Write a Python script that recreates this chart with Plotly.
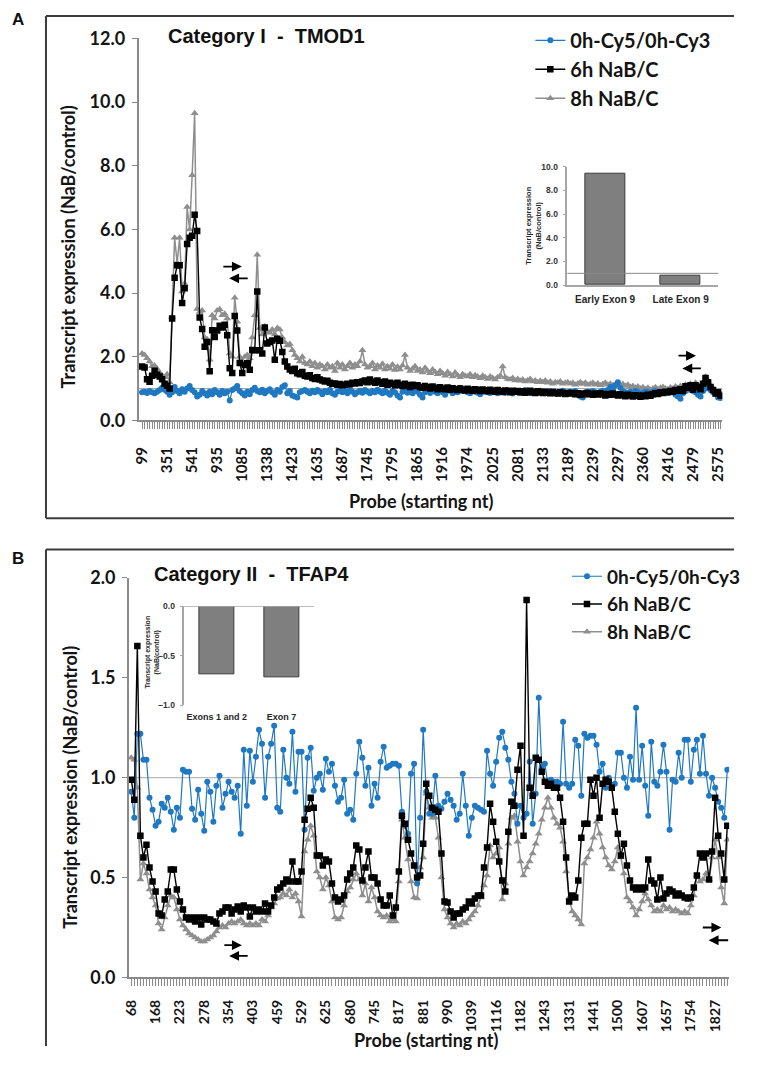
import plotly.graph_objects as go

# The page keeps the browser's default 8px body margin, so the figure is made
# 16px smaller than the window and every position below is given in window
# pixels and converted with that 8px offset.
WIN_W, WIN_H = 762, 1072
OFF = 8
W, H = WIN_W - 2 * OFF, WIN_H - 2 * OFF


def px(x):
    return (x - OFF) / W


def py(y):
    return 1 - (y - OFF) / H


# ---------------- Panel A data (TMOD1) ----------------
a_labels = ["99", "351", "541", "935", "1085", "1338", "1423", "1635", "1687", "1745",
            "1795", "1865", "1916", "1974", "2025", "2081", "2133", "2189", "2239",
            "2297", "2360", "2416", "2479", "2575"]

a_0h = [
    0.88, 0.90, 0.86, 0.92, 0.88, 0.85, 0.90, 0.95, 1.02, 0.96,
    0.90, 0.80, 0.88, 1.05, 0.92, 0.85, 0.98, 0.90, 1.00, 1.08,
    0.95, 0.88, 0.75, 0.80, 0.92, 0.85, 0.78, 0.90, 0.82, 0.95,
    0.88, 0.80, 0.92, 0.85, 0.90, 0.62, 0.95, 1.00, 1.08, 0.92,
    0.85, 0.78, 0.90, 0.82, 0.95, 1.02, 0.92, 0.88, 0.96, 0.85,
    0.92, 0.98, 0.88, 0.80, 0.95, 0.90, 1.05, 1.10, 0.85, 0.92,
    0.78, 0.75, 0.72, 0.88, 0.92, 0.95, 0.90, 0.85, 0.93, 0.88,
    0.95, 0.90, 0.82, 0.92, 0.88, 0.96, 0.85, 0.80, 0.90, 0.94,
    0.88, 0.92, 0.85, 0.95, 0.90, 0.82, 0.88, 0.93, 0.87, 0.95,
    0.90, 0.85, 0.92, 0.88, 0.96, 0.90, 0.85, 0.93, 0.87, 0.80,
    0.92, 0.88, 0.78, 0.72, 0.90, 0.95, 0.87, 0.92, 0.85, 0.95,
    0.90, 0.80, 0.72, 0.88, 0.93, 0.86, 0.95, 0.90, 0.85, 0.92,
    0.88, 0.80, 0.95, 0.92, 0.85, 0.90, 0.88, 1.02, 0.92, 0.95,
    0.88, 0.85, 0.92, 0.90, 0.87, 0.82, 0.90, 0.95, 0.88, 0.86,
    0.92, 0.88, 0.85, 0.93, 0.90, 0.87, 0.95, 0.89, 0.84, 0.90,
    0.92, 0.86, 0.90, 0.95, 0.88, 0.85, 0.92, 0.90, 0.87, 0.93,
    0.88, 0.85, 0.90, 0.92, 0.86, 0.89, 0.84, 0.90, 0.93, 0.87,
    0.85, 0.90, 0.88, 0.92, 0.80, 0.75, 0.72, 0.88, 0.90, 0.86,
    0.92, 0.88, 0.85, 0.90, 0.93, 0.87, 0.95, 1.05, 0.98, 1.10,
    1.20, 1.02, 0.92, 0.88, 0.85, 0.90, 0.87, 0.92, 0.88, 0.84,
    0.86, 0.90, 0.88, 0.85, 0.90, 0.92, 0.87, 0.85, 0.90, 0.88,
    0.86, 0.92, 0.88, 0.80, 0.75, 0.68, 0.85, 0.92, 0.96, 1.00,
    0.92, 0.88, 0.80, 0.75, 0.92, 1.00, 1.05, 0.95, 0.88, 0.82,
    0.72, 0.70,
]

a_6h = [
    1.69, 1.66, 1.29, 1.21, 1.40, 1.56, 1.43, 1.38, 1.29, 1.15,
    1.09, 1.00, 3.20, 4.48, 4.87, 4.87, 3.69, 4.15, 5.54, 5.74,
    5.80, 6.46, 5.95, 3.23, 2.87, 2.31, 2.46, 1.54, 2.83, 2.62,
    2.82, 2.97, 2.92, 3.00, 2.67, 1.64, 1.49, 3.28, 2.82, 1.80,
    1.49, 1.74, 1.79, 1.59, 2.21, 2.20, 4.05, 2.20, 2.10, 2.92,
    2.41, 2.46, 2.51, 1.90, 2.56, 2.50, 2.15, 1.85, 1.69, 1.60,
    1.55, 1.62, 1.48, 1.45, 1.52, 1.40, 1.38, 1.42, 1.33, 1.30,
    1.35, 1.28, 1.25, 1.22, 1.24, 1.18, 1.15, 1.16, 1.12, 1.14,
    1.10, 1.12, 1.15, 1.13, 1.18, 1.16, 1.20, 1.17, 1.22, 1.25,
    1.20, 1.28, 1.22, 1.18, 1.25, 1.20, 1.15, 1.22, 1.12, 1.18,
    1.15, 1.10, 1.18, 1.12, 1.08, 1.15, 1.10, 1.05, 1.12, 1.08,
    1.10, 1.05, 1.02, 1.08, 1.04, 1.00, 1.06, 1.02, 0.98, 1.04,
    1.00, 0.98, 1.03, 0.96, 1.01, 0.98, 0.95, 1.00, 0.97, 0.94,
    0.99, 0.96, 0.93, 0.98, 0.95, 0.92, 0.97, 0.94, 0.91, 0.96,
    0.93, 0.90, 0.95, 0.92, 0.89, 0.94, 0.91, 0.88, 0.93, 0.90,
    0.92, 0.88, 0.91, 0.87, 0.90, 0.93, 0.88, 0.86, 0.91, 0.89,
    0.86, 0.90, 0.87, 0.85, 0.89, 0.86, 0.84, 0.88, 0.85, 0.83,
    0.87, 0.84, 0.86, 0.82, 0.85, 0.80, 0.84, 0.82, 0.86, 0.83,
    0.80, 0.84, 0.81, 0.85, 0.82, 0.78, 0.83, 0.80, 0.84, 0.81,
    0.78, 0.82, 0.79, 0.76, 0.80, 0.78, 0.75, 0.79, 0.77, 0.74,
    0.78, 0.76, 0.80, 0.77, 0.82, 0.85, 0.83, 0.88, 0.86, 0.90,
    0.88, 0.92, 0.90, 0.95, 0.93, 0.98, 0.92, 1.07, 1.02, 1.10,
    0.96, 1.10, 1.05, 0.98, 1.15, 1.33, 1.20, 1.05, 0.95, 0.84,
    0.88, 0.77,
]

a_8h = [
    2.10, 2.05, 1.95, 1.85, 1.70, 1.72, 1.62, 1.50, 1.42, 1.35,
    1.45, 1.20, 3.25, 5.74, 4.95, 5.74, 4.05, 4.30, 6.70, 6.00,
    7.70, 9.65, 3.50, 3.40, 3.45, 2.60, 2.55, 1.90, 3.30, 3.20,
    3.45, 3.49, 3.30, 3.35, 3.20, 2.10, 2.00, 3.85, 3.10, 2.00,
    1.85, 2.00, 2.05, 1.95, 2.60, 3.30, 5.20, 2.90, 2.70, 2.95,
    2.80, 2.75, 2.85, 2.70, 2.90, 2.85, 2.60, 2.45, 2.35, 2.40,
    2.20, 2.05, 1.95, 1.85, 2.00, 1.80, 1.75, 1.85, 1.70, 1.80,
    1.65, 1.75, 1.70, 1.60, 1.75, 1.65, 1.70, 1.55, 1.80, 1.65,
    1.75, 1.60, 1.70, 1.80, 1.65, 1.75, 1.70, 1.85, 2.20, 1.75,
    1.65, 1.70, 1.80, 1.60, 1.72, 1.65, 1.78, 1.60, 1.70, 1.62,
    1.75, 1.58, 1.68, 1.60, 1.72, 2.05, 1.65, 1.55, 1.62, 1.70,
    1.55, 1.60, 1.50, 1.65, 1.55, 1.48, 1.60, 1.52, 1.45, 1.55,
    1.48, 1.40, 1.52, 1.45, 1.38, 1.50, 1.42, 1.35, 1.45, 1.40,
    1.38, 1.45, 1.35, 1.42, 1.38, 1.32, 1.40, 1.35, 1.30, 1.38,
    1.33, 1.28, 1.35, 1.40, 1.69, 1.35, 1.30, 1.28, 1.33, 1.25,
    1.30, 1.24, 1.28, 1.22, 1.26, 1.30, 1.22, 1.25, 1.20, 1.24,
    1.20, 1.25, 1.18, 1.22, 1.15, 1.20, 1.18, 1.22, 1.15, 1.18,
    1.20, 1.15, 1.18, 1.12, 1.16, 1.20, 1.14, 1.18, 1.12, 1.15,
    1.18, 1.12, 1.16, 1.10, 1.14, 1.18, 1.12, 1.15, 1.10, 1.13,
    1.16, 1.10, 1.14, 1.08, 1.12, 1.05, 1.08, 1.02, 1.06, 1.00,
    1.04, 0.98, 1.02, 0.96, 1.00, 1.04, 0.98, 1.02, 1.05, 1.00,
    0.98, 1.03, 1.00, 1.06, 1.02, 1.08, 0.96, 1.12, 1.05, 1.15,
    1.08, 1.18, 1.10, 1.05, 1.20, 1.38, 1.25, 1.10, 1.00, 0.92,
    0.90, 0.85,
]

a_inset_cats = ["Early Exon 9", "Late Exon 9"]
a_inset_vals = [9.4, 0.8]

# ---------------- Panel B data (TFAP4) ----------------
b_labels = ["68", "168", "223", "278", "354", "403", "459", "529", "625", "680",
            "745", "817", "881", "990", "1039", "1116", "1182", "1243", "1331",
            "1441", "1500", "1607", "1657", "1754", "1827"]

b_0h = [
    0.93, 0.80, 1.22, 1.22, 1.09, 1.09, 0.90, 0.84,
    0.76, 0.78, 0.87, 0.85, 0.90, 0.83, 0.74, 0.85,
    0.80, 1.04, 1.03, 1.03, 0.845, 0.79, 0.94, 0.82,
    0.735, 0.98, 0.93, 0.78, 0.96, 1.01, 0.85, 0.92,
    0.98, 0.93, 0.90, 0.96, 0.72, 1.14, 0.86, 1.135,
    0.98, 1.105, 1.24, 1.17, 0.90, 1.105, 1.17, 1.26,
    0.85, 0.83, 1.14, 1.00, 0.97, 1.23, 0.93, 1.13,
    1.13, 0.74, 1.10, 1.15, 0.935, 1.00, 1.02, 0.94,
    1.095, 1.03, 1.07, 0.96, 0.88, 0.90, 0.99, 0.82,
    0.84, 0.79, 1.02, 1.18, 1.10, 0.96, 1.05, 0.86,
    0.97, 0.90, 1.08, 1.155, 1.05, 1.06, 1.07, 1.07,
    1.06, 0.83, 0.76, 0.72, 1.02, 1.07, 0.47, 0.80,
    1.24, 0.93, 0.82, 0.82, 1.01, 0.86, 0.845, 0.88,
    0.92, 0.89, 0.86, 0.79, 0.82, 1.02, 0.86, 0.71,
    0.80, 0.86, 0.85, 0.84, 0.83, 1.135, 1.02, 0.96,
    1.08, 1.20, 1.23, 1.15, 1.09, 0.98, 0.92, 0.77,
    0.86, 0.80, 0.82, 1.08, 0.77, 0.92, 1.40, 1.05,
    1.07, 0.97, 0.99, 0.98, 0.98, 0.97, 1.28, 0.97,
    0.95, 0.97, 1.19, 1.16, 0.91, 1.22, 1.20, 1.21,
    1.21, 1.165, 1.03, 1.07, 0.95, 1.00, 0.95, 0.97,
    1.125, 1.125, 1.00, 0.95, 1.105, 0.99, 1.35, 0.99,
    1.16, 0.96, 0.81, 1.18, 0.98, 0.96, 1.03, 1.165,
    1.03, 0.74, 0.99, 0.98, 1.125, 1.00, 1.19, 1.19,
    0.98, 1.14, 1.19, 1.02, 1.21, 1.02, 0.91, 1.00,
    0.95, 0.88, 0.85, 0.80, 1.04,
]

b_6h = [
    0.99, 0.89, 1.66, 0.71, 0.60, 0.665, 0.55, 0.48,
    0.43, 0.32, 0.31, 0.39, 0.43, 0.54, 0.54, 0.44,
    0.38, 0.34, 0.30, 0.29, 0.30, 0.28, 0.30, 0.265,
    0.30, 0.29, 0.29, 0.28, 0.27, 0.32, 0.33, 0.35,
    0.35, 0.32, 0.34, 0.355, 0.33, 0.36, 0.35, 0.305,
    0.35, 0.33, 0.34, 0.33, 0.37, 0.33, 0.36, 0.40,
    0.44, 0.45, 0.47, 0.49, 0.48, 0.58, 0.48, 0.48,
    0.53, 0.79, 0.845, 0.90, 0.85, 0.61, 0.61, 0.56,
    0.59, 0.58, 0.47, 0.40, 0.38, 0.39, 0.41, 0.49,
    0.52, 0.55, 0.66, 0.64, 0.485, 0.55, 0.63, 0.50,
    0.50, 0.47, 0.39, 0.36, 0.36, 0.41, 0.31, 0.35,
    0.53, 0.81, 0.77, 0.69, 0.62, 0.56, 0.50, 0.51,
    0.67, 0.97, 0.91, 0.85, 0.84, 0.83, 0.62, 0.38,
    0.375, 0.33, 0.30, 0.32, 0.32, 0.34, 0.35, 0.38,
    0.37, 0.395, 0.41, 0.41, 0.55, 0.65, 0.87, 0.78,
    0.68, 0.58, 0.485, 0.43, 0.73, 0.88, 0.86, 1.04,
    1.16, 0.71, 1.89, 0.95, 0.91, 1.10, 1.09, 1.03,
    0.98, 0.96, 0.97, 0.95, 0.95, 0.90, 0.78, 0.60,
    0.38, 0.41, 0.40, 0.485, 0.70, 0.77, 0.77, 0.99,
    0.91, 1.00, 0.80, 0.97, 0.99, 0.98, 0.95, 0.83,
    0.72, 0.61, 0.67, 0.56, 0.485, 0.45, 0.44, 0.45,
    0.44, 0.45, 0.59, 0.485, 0.47, 0.39, 0.50, 0.395,
    0.42, 0.44, 0.43, 0.41, 0.42, 0.41, 0.40, 0.395,
    0.40, 0.45, 0.51, 0.62, 0.60, 0.62, 0.49, 0.63,
    0.90, 0.71, 0.62, 0.49, 0.76,
]

b_8h = [
    1.10, 1.09, 0.95, 0.49, 0.57, 0.52, 0.44, 0.40,
    0.36, 0.27, 0.24, 0.30, 0.36, 0.41, 0.40, 0.34,
    0.29, 0.26, 0.24, 0.22, 0.21, 0.20, 0.19, 0.18,
    0.18, 0.19, 0.20, 0.21, 0.23, 0.25, 0.26, 0.25,
    0.27, 0.28, 0.27, 0.28, 0.29, 0.27, 0.26, 0.27,
    0.26, 0.27, 0.26, 0.29, 0.28, 0.31, 0.35, 0.37,
    0.395, 0.40, 0.42, 0.41, 0.44, 0.40, 0.42, 0.38,
    0.305, 0.63, 0.69, 0.76, 0.71, 0.53, 0.50, 0.44,
    0.50, 0.46, 0.38, 0.30, 0.29, 0.30, 0.36, 0.43,
    0.45, 0.49, 0.52, 0.49, 0.41, 0.47, 0.38, 0.45,
    0.40, 0.33, 0.31, 0.30, 0.31, 0.28, 0.29, 0.28,
    0.48, 0.79, 0.70, 0.59, 0.48, 0.40, 0.395, 0.55,
    0.60, 0.92, 0.85, 0.80, 0.80, 0.70, 0.50, 0.34,
    0.30, 0.27, 0.25, 0.27, 0.26, 0.28, 0.27, 0.29,
    0.31, 0.33, 0.36, 0.40, 0.46, 0.51, 0.66, 0.60,
    0.62, 0.65, 0.39, 0.47, 0.67, 0.80, 0.81, 0.68,
    0.58, 0.51, 0.55, 0.58, 0.62, 0.67, 0.72, 0.79,
    0.85, 0.90, 0.85, 0.80, 0.77, 0.75, 0.68, 0.53,
    0.40, 0.33, 0.31, 0.29, 0.265, 0.57, 0.60, 0.64,
    0.70, 0.78, 0.72, 0.65, 0.60, 0.56, 0.54, 0.58,
    0.65, 0.60, 0.52, 0.40, 0.38, 0.35, 0.31, 0.34,
    0.38, 0.42, 0.39, 0.36, 0.33, 0.34, 0.33, 0.36,
    0.34, 0.35, 0.33, 0.34, 0.33, 0.32, 0.33, 0.32,
    0.36, 0.41, 0.51, 0.48, 0.49, 0.52, 0.49, 0.60,
    0.69, 0.60, 0.45, 0.37, 0.69,
]

b_inset_cats = ["Exons 1 and 2", "Exon 7"]
b_inset_vals = [-0.69, -0.72]

series_names = ["0h-Cy5/0h-Cy3", "6h NaB/C", "8h NaB/C"]

# ---------------- styling ----------------
BLUE = "#1e78c2"
BLACK = "#000000"
GRAY = "#8e8e8e"
AXIS = "#8a8a8a"
TXT = "#141414"
CAL = "Lato"
ARI = "Liberation Sans"

A_STEP = 10
B_STEP = 8

na = len(a_0h)
nb = len(b_0h)
xa = list(range(na))
xb = list(range(nb))
a_ticktext = [a_labels[i // A_STEP] if (i % A_STEP == 0 and i // A_STEP < len(a_labels)) else "" for i in xa]
b_ticktext = [b_labels[i // B_STEP] if (i % B_STEP == 0 and i // B_STEP < len(b_labels)) else "" for i in xb]

fig = go.Figure()


def add_series(x, ys, xaxis, yaxis, legend):
    specs = [
        (ys[2], series_names[2], GRAY, "triangle-up", 7, 1.5, 3),
        (ys[0], series_names[0], BLUE, "circle", 6, 1.2, 1),
        (ys[1], series_names[1], BLACK, "square", 6.5, 1.4, 2),
    ]
    for vals, name, color, sym, size, lw, rank in specs:
        fig.add_trace(go.Scatter(
            x=x, y=vals, name=name, mode="lines+markers",
            line=dict(color=color, width=lw),
            marker=dict(color=color, symbol=sym, size=size, line=dict(width=0)),
            xaxis=xaxis, yaxis=yaxis, legend=legend, legendrank=rank,
            hoverinfo="skip",
        ))


add_series(xa, [a_0h, a_6h, a_8h], "x", "y", "legend")
add_series(xb, [b_0h, b_6h, b_8h], "x3", "y3", "legend2")

bar_style = dict(color="#7f7f7f", line=dict(color="#3a3a3a", width=1))
fig.add_trace(go.Bar(x=a_inset_cats, y=a_inset_vals, xaxis="x2", yaxis="y2",
                     marker=bar_style, width=0.53, showlegend=False, hoverinfo="skip"))
fig.add_trace(go.Bar(x=b_inset_cats, y=b_inset_vals, xaxis="x4", yaxis="y4",
                     marker=bar_style, width=0.54, showlegend=False, hoverinfo="skip"))

tick_main_x = dict(family=CAL, size=15, color=TXT, weight="bold")
tick_main_y = dict(family=CAL, size=18, color=TXT, weight="bold")
tick_inset_y = dict(family=ARI, size=8.5, color="#333333", weight="bold")

fig.update_layout(
    width=W, height=H, autosize=False,
    margin=dict(l=0, r=0, t=0, b=0),
    paper_bgcolor="white", plot_bgcolor="rgba(0,0,0,0)",
    bargap=0,
    # Panel A main
    xaxis=dict(domain=[px(143), px(742)], range=[-1.4, na - 0.3], anchor="y",
               tickmode="array", tickvals=xa, ticktext=a_ticktext, tickangle=-90,
               ticks="outside", ticklen=7, tickwidth=1, tickcolor=AXIS,
               showline=True, linecolor=AXIS, linewidth=1.5,
               showgrid=False, zeroline=False, tickfont=tick_main_x,
               ticklabelstandoff=12),
    yaxis=dict(domain=[py(425), py(35)], range=[0, 12], anchor="x",
               tickmode="array", tickvals=[0, 2, 4, 6, 8, 10, 12], tickformat=".1f",
               ticks="outside", ticklen=5, tickcolor=AXIS, tickwidth=1,
               showline=True, linecolor=AXIS, linewidth=1.5,
               showgrid=False, zeroline=False, tickfont=tick_main_y,
               ticklabelstandoff=3),
    # Panel A inset
    xaxis2=dict(domain=[px(583), px(738)], anchor="y2", type="category",
                showline=True, linecolor="#a6a6a6", linewidth=1.5, ticks="",
                showgrid=False, zeroline=False,
                tickfont=dict(family=ARI, size=10, color="#262626", weight="bold"),
                ticklabelstandoff=4),
    yaxis2=dict(domain=[py(287), py(166)], range=[0, 10], anchor="x2",
                tickmode="array", tickvals=[0, 2, 4, 6, 8, 10], tickformat=".1f",
                ticks="outside", ticklen=3, tickcolor="#a6a6a6",
                showline=True, linecolor="#a6a6a6", linewidth=1.5,
                showgrid=False, zeroline=False, tickfont=tick_inset_y,
                ticklabelstandoff=3),
    # Panel B main
    xaxis3=dict(domain=[px(133), px(749)], range=[-0.8, nb - 0.4], anchor="y3",
                tickmode="array", tickvals=xb, ticktext=b_ticktext, tickangle=-90,
                ticks="outside", ticklen=7, tickwidth=1, tickcolor=AXIS,
                showline=True, linecolor=AXIS, linewidth=1.5,
                showgrid=False, zeroline=False,
                tickfont=dict(family=CAL, size=14, color=TXT, weight="bold"),
                ticklabelstandoff=8),
    yaxis3=dict(domain=[py(994), py(586)], range=[0, 2], anchor="x3",
                tickmode="array", tickvals=[0, 0.5, 1.0, 1.5, 2.0], tickformat=".1f",
                ticks="outside", ticklen=5, tickcolor=AXIS, tickwidth=1,
                showline=True, linecolor=AXIS, linewidth=1.5,
                showgrid=False, zeroline=False, tickfont=tick_main_y,
                ticklabelstandoff=3),
    # Panel B inset
    xaxis4=dict(domain=[px(190), px(323)], anchor="y4", type="category",
                showline=False, ticks="", showgrid=False, zeroline=False,
                tickfont=dict(family=ARI, size=9, color="#262626", weight="bold"),
                ticklabelstandoff=5),
    yaxis4=dict(domain=[py(716), py(615)], range=[-1, 0], anchor="x4",
                tickmode="array", tickvals=[-1, -0.5, 0], tickformat=".1f",
                ticks="outside", ticklen=3, tickcolor="#a6a6a6",
                showline=True, linecolor="#a6a6a6", linewidth=1.5,
                showgrid=False, zeroline=False, tickfont=tick_inset_y,
                ticklabelstandoff=3),
    legend=dict(x=px(545), y=py(17), xanchor="left", yanchor="top",
                font=dict(family=CAL, size=20, color=TXT, weight="bold"),
                bgcolor="rgba(0,0,0,0)", borderwidth=0, tracegroupgap=0,
                itemclick=False, itemdoubleclick=False),
    legend2=dict(x=px(583), y=py(565), xanchor="left", yanchor="top",
                 font=dict(family=CAL, size=19, color=TXT, weight="bold"),
                 bgcolor="rgba(0,0,0,0)", borderwidth=0, tracegroupgap=0,
                 itemclick=False, itemdoubleclick=False),
)

FRAME = dict(color="#3c3c3c", width=2)
shapes = [
    # panel frames (left, top, bottom edges; the right side runs off the page)
    dict(type="line", xref="paper", yref="paper", x0=px(48), x1=1, y0=py(12), y1=py(12), line=FRAME),
    dict(type="line", xref="paper", yref="paper", x0=px(48), x1=px(48), y0=py(12), y1=py(525), line=FRAME),
    dict(type="line", xref="paper", yref="paper", x0=px(48), x1=1, y0=py(525), y1=py(525), line=FRAME),
    dict(type="line", xref="paper", yref="paper", x0=px(48), x1=1, y0=py(557), y1=py(557), line=FRAME),
    dict(type="line", xref="paper", yref="paper", x0=px(48), x1=px(48), y0=py(557), y1=0, line=FRAME),
    # reference lines at 1.0
    dict(type="line", xref="x domain", yref="y", x0=0, x1=1, y0=1, y1=1,
         line=dict(color="#a8a8a8", width=1), layer="below"),
    dict(type="line", xref="x3 domain", yref="y3", x0=0, x1=1, y0=1, y1=1,
         line=dict(color="#a8a8a8", width=1), layer="below"),
    dict(type="line", xref="x2 domain", yref="y2", x0=0, x1=1, y0=1, y1=1,
         line=dict(color="#8a8a8a", width=1), layer="above"),
    dict(type="line", xref="x4 domain", yref="y4", x0=0, x1=1, y0=0, y1=0,
         line=dict(color="#a6a6a6", width=1.5), layer="above"),
]
fig.update_layout(shapes=shapes)

ann = []


def text(x, y, s, size, family=CAL, angle=0, color=TXT, xanchor="center"):
    ann.append(dict(x=px(x), y=py(y), xref="paper", yref="paper", text=s,
                    showarrow=False, textangle=angle, xanchor=xanchor, yanchor="middle",
                    font=dict(family=family, size=size, color=color, weight="bold")))


text(19, 16, "A", 17, ARI, color="#111")
text(19, 566, "B", 17, ARI, color="#111")
text(274, 33, "Category I\u00a0\u00a0-\u00a0\u00a0TMOD1", 20, ARI, color="#111")
text(259, 582, "Category II\u00a0\u00a0-\u00a0\u00a0TFAP4", 20, ARI, color="#111")
text(71, 248, "Transcript expression (NaB/control)", 18, angle=-90)
text(72, 800, "Transcript expression (NaB/control)", 18, angle=-90)
text(433, 507, "Probe (starting nt)", 18)
text(438, 1058, "Probe (starting nt)", 18)
text(548, 226, "Transcript expression<br>(NaB/control)", 7.5, ARI, angle=-90, color="#262626")
text(157, 662, "Transcript expression<br>(NaB/control)", 7, ARI, angle=-90, color="#262626")


def arrow(x_tail, x_head, y):
    ann.append(dict(x=px(x_head), y=py(y), xref="paper", yref="paper",
                    ax=x_tail - x_head, ay=0, axref="pixel", ayref="pixel",
                    text="", showarrow=True, arrowhead=2, arrowsize=1.1,
                    arrowwidth=1.8, arrowcolor="#000"))


arrow(229, 249, 268)
arrow(256, 236, 280)
arrow(696, 715, 359)
arrow(721, 701, 372)
arrow(230, 249, 961)
arrow(256, 236, 972)
arrow(721, 741, 943)
arrow(749, 728, 956)

fig.update_layout(annotations=ann)

fig.write_html("out.html")
